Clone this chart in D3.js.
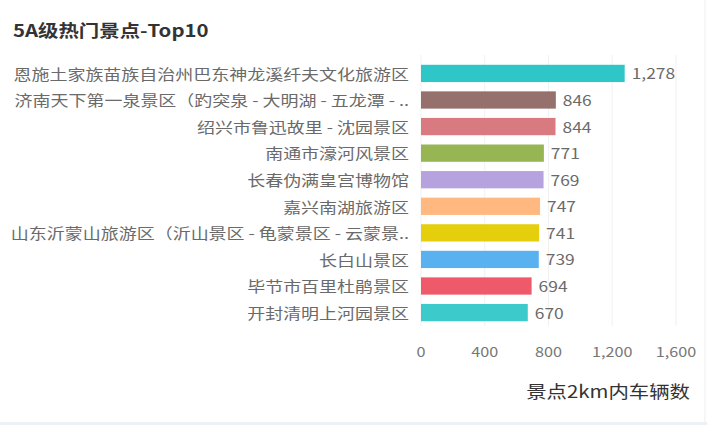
<!DOCTYPE html>
<html>
<head>
<meta charset="utf-8">
<script src="https://cdn.jsdelivr.net/npm/d3@7"></script>
<style>
  html, body { margin: 0; padding: 0; background: #fff; }
  svg { display: block; }
  text { font-family: "Noto Sans CJK SC", "Noto Sans", sans-serif; }
</style>
</head>
<body>
<div id="chart"></div>
<script>
// data
const spots = [
  "恩施土家族苗族自治州巴东神龙溪纤夫文化旅游区",
  "济南天下第一泉景区（趵突泉 - 大明湖 - 五龙潭 - ..",
  "绍兴市鲁迅故里 - 沈园景区",
  "南通市濠河风景区",
  "长春伪满皇宫博物馆",
  "嘉兴南湖旅游区",
  "山东沂蒙山旅游区（沂山景区 - 龟蒙景区 - 云蒙景..",
  "长白山景区",
  "毕节市百里杜鹃景区",
  "开封清明上河园景区"
];
const cars = [1278, 846, 844, 771, 769, 747, 741, 739, 694, 670];
const barColors = ["#2fc6c8", "#95706d", "#d87a80", "#97b552", "#b6a2de",
                   "#ffb980", "#e5cf0d", "#5ab1ef", "#ef5a6b", "#3ccaca"];
const xTicks = [0, 400, 800, 1200, 1600];
const title = "5A级热门景点-Top10";
const xTitle = "景点2km内车辆数";

// the source image is stretched horizontally, so draw in a narrower
// viewBox and let the svg stretch it back out
const stretch = 1.2;
const W = 707, H = 425;
const vw = W / stretch;

const svg = d3.select("#chart").append("svg")
  .attr("width", W)
  .attr("height", H)
  .attr("viewBox", `0 0 ${vw} ${H}`)
  .attr("preserveAspectRatio", "none");

const x = d3.scaleLinear()
  .domain([0, 1600])
  .range([421 / stretch, 676 / stretch]);

const y = d3.scaleBand()
  .domain(spots)
  .range([60, 326])
  .paddingInner(0.35)
  .paddingOuter(0.18);

// card edges
svg.append("rect")
  .attr("x", 0).attr("y", 422)
  .attr("width", vw).attr("height", 3)
  .attr("fill", "#edf1f4");
svg.append("line")
  .attr("x1", 705 / stretch).attr("x2", 705 / stretch)
  .attr("y1", 0).attr("y2", 422)
  .attr("stroke", "#e8ecef")
  .attr("stroke-width", 1 / stretch);

svg.append("text")
  .attr("x", 13 / stretch)
  .attr("y", 37)
  .attr("font-size", 17)
  .attr("font-weight", "bold")
  .attr("fill", "#333")
  .text(title);

// grid
svg.append("g")
  .selectAll("line")
  .data(xTicks)
  .join("line")
  .attr("x1", d => x(d)).attr("x2", d => x(d))
  .attr("y1", 55).attr("y2", 326)
  .attr("stroke", "#f0f0f0")
  .attr("stroke-width", 1 / stretch);

// bars
svg.append("g")
  .selectAll("rect")
  .data(cars)
  .join("rect")
  .attr("x", x(0))
  .attr("y", (d, i) => y(spots[i]))
  .attr("width", d => x(d) - x(0))
  .attr("height", y.bandwidth())
  .attr("fill", (d, i) => barColors[i]);

// category labels
svg.append("g")
  .selectAll("text")
  .data(spots)
  .join("text")
  .attr("x", 409 / stretch)
  .attr("y", d => y(d) + y.bandwidth() / 2 + 1)
  .attr("dy", "0.35em")
  .attr("text-anchor", "end")
  .attr("font-size", 15)
  .attr("fill", "#6a6a6a")
  .text(d => d);

// value labels
const fmt = d3.format(",d");
svg.append("g")
  .selectAll("text")
  .data(cars)
  .join("text")
  .attr("x", d => x(d) + 7 / stretch)
  .attr("y", (d, i) => y(spots[i]) + y.bandwidth() / 2 + 1)
  .attr("dy", "0.35em")
  .attr("font-size", 14.5)
  .attr("fill", "#6a6a6a")
  .text(d => fmt(d));

// x axis labels
svg.append("g")
  .selectAll("text")
  .data(xTicks)
  .join("text")
  .attr("x", d => x(d))
  .attr("y", 352)
  .attr("dy", "0.35em")
  .attr("text-anchor", "middle")
  .attr("font-size", 13.5)
  .attr("fill", "#777")
  .text(d => fmt(d));

svg.append("text")
  .attr("x", 690 / stretch)
  .attr("y", 392)
  .attr("dy", "0.35em")
  .attr("text-anchor", "end")
  .attr("font-size", 17)
  .attr("fill", "#333")
  .text(xTitle);
</script>
</body>
</html>
